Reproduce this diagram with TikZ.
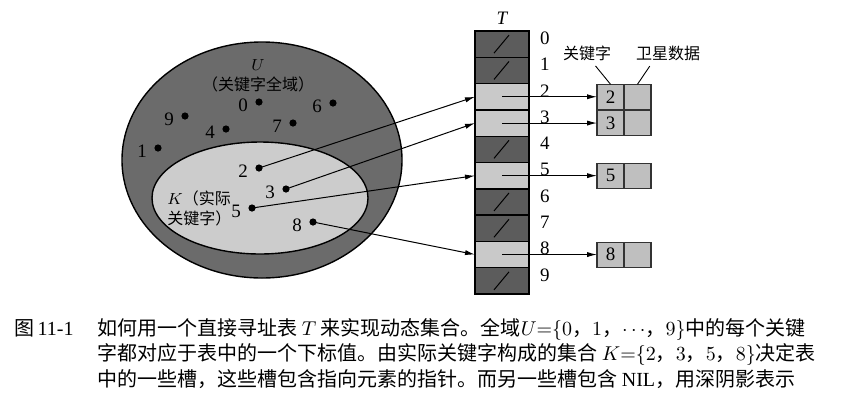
\documentclass[tikz,border=0pt]{standalone}
\usepackage{fontspec}
\setmainfont{Liberation Serif}
\newfontfamily\cjkfont{Noto Sans CJK SC}
\usepackage{tikz}
\usetikzlibrary{arrows.meta, positioning}
\colorlet{univgray}{black!58}
\colorlet{keygray}{black!20}
\colorlet{nilgray}{black!64}
\colorlet{usedgray}{black!21}
\colorlet{recgray}{black!25}
\tikzset{
  keydot/.style   = {circle, fill=black, inner sep=0pt, minimum size=3.6pt},
  num/.style      = {font=\fontsize{9.5}{11}\selectfont, yshift=-1.5pt},
  slot/.style     = {rectangle, draw, line width=0.7pt, fill=usedgray, minimum width=27pt,
                     minimum height=13.15pt, inner sep=0pt, outer sep=0pt},
  nilslot/.style  = {slot, fill=nilgray, path picture={
                     \draw[line width=0.5pt] (path picture bounding box.center)
                       +(-4pt,-4.5pt) -- +(3.5pt,4.5pt);}},
  idx/.style      = {font=\fontsize{9.5}{11}\selectfont, xshift=2pt, yshift=3pt},
  keycell/.style  = {rectangle, draw=black!80, line width=0.55pt, fill=recgray,
                     minimum width=13.5pt, minimum height=12.5pt, inner sep=0pt,
                     outer sep=0pt, font=\fontsize{9.5}{11}\selectfont},
  ptr/.style      = {-{Latex[length=5pt, width=2.6pt]}, line width=0.5pt},
  lead/.style     = {line width=0.45pt, shorten <=2pt},
  cjklab/.style   = {font=\cjkfont\fontsize{8}{10}\selectfont, inner sep=1pt},
  captext/.style  = {font=\cjkfont\fontsize{10}{12}\selectfont, anchor=base west, inner sep=0pt},
}

\begin{document}
\begin{tikzpicture}[x=0.5pt, y=-0.5pt]
  \useasboundingbox (0,0) rectangle (852,403);

  % the universe and the actual keys
  \draw[fill=univgray, line width=0.7pt] (262,160) ellipse [x radius=70pt, y radius=59pt];
  \draw[fill=keygray, line width=0.7pt] (260,198) ellipse [x radius=54pt, y radius=28pt];
  \node[cjklab, align=center] (ulab) at (258,76) {$U$\\（关键字全域）};
  \node[cjklab, align=left, anchor=west] (klab) at (165,208) {$K$（实际\\关键字）};

  \node[keydot, label={[num]left:0}] (k0) at (259,102) {};
  \node[keydot, label={[num]left:6}] (k6) at (333,103) {};
  \node[keydot, label={[num]left:9}] (k9) at (185,116) {};
  \node[keydot, label={[num]left:4}] (k4) at (226,129) {};
  \node[keydot, label={[num]left:7}] (k7) at (293,123) {};
  \node[keydot, label={[num]left:1}] (k1) at (158,148) {};
  \node[keydot, label={[num]left:2}] (k2) at (259,168) {};
  \node[keydot, label={[num]left:3}] (k3) at (286,189) {};
  \node[keydot, label={[num]left:5}] (k5) at (252,208) {};
  \node[keydot, label={[num]left:8}] (k8) at (313,222) {};

  % the direct-address table
  \node[font=\fontsize{9.5}{11}\selectfont\itshape] (tlab) at (502,18) {T};
  \node[nilslot, label={[idx]right:0}] (s0) at (502,44.15) {};
  \node[nilslot, label={[idx]right:1}, below=0pt of s0] (s1) {};
  \node[slot,    label={[idx]right:2}, below=0pt of s1] (s2) {};
  \node[slot,    label={[idx]right:3}, below=0pt of s2] (s3) {};
  \node[nilslot, label={[idx]right:4}, below=0pt of s3] (s4) {};
  \node[slot,    label={[idx]right:5}, below=0pt of s4] (s5) {};
  \node[nilslot, label={[idx]right:6}, below=0pt of s5] (s6) {};
  \node[nilslot, label={[idx]right:7}, below=0pt of s6] (s7) {};
  \node[slot,    label={[idx]right:8}, below=0pt of s7] (s8) {};
  \node[nilslot, label={[idx]right:9}, below=0pt of s8] (s9) {};

  % elements: key + satellite data
  \node[keycell, right=34pt of s2] (r2) {2};
  \node[keycell, right=0pt of r2] (d2) {};
  \node[keycell, right=34pt of s3] (r3) {3};
  \node[keycell, right=0pt of r3] (d3) {};
  \node[keycell, right=34pt of s5] (r5) {5};
  \node[keycell, right=0pt of r5] (d5) {};
  \node[keycell, right=34pt of s8] (r8) {8};
  \node[keycell, right=0pt of r8] (d8) {};
  \node[cjklab] (keylab) at (587,53) {关键字};
  \node[cjklab] (satlab) at (668,53) {卫星数据};
  \draw[lead] ([xshift=3pt]keylab.south) -- (r2.north);
  \draw[lead] ([xshift=-8pt]satlab.south) -- (d2.north);

  \draw[ptr] (k2.center) -- (s2.west);
  \draw[ptr] (k3.center) -- (s3.west);
  \draw[ptr] (k5.center) -- (s5.west);
  \draw[ptr] (k8.center) -- (s8.west);
  \draw[ptr] (s2.center) -- (r2.west);
  \draw[ptr] (s3.center) -- (r3.west);
  \draw[ptr] (s5.center) -- (r5.west);
  \draw[ptr] (s8.center) -- (r8.west);

  % caption
  \node[captext] (fignum) at (14,335) {图\,\textrm{11-1}};
  \node[captext] (cap1) at (97,335) {如何用一个直接寻址表 $T$ 来实现动态集合。全域$U{=}\{0$，$1$，$\cdots$，$9\}$中的每个关键};
  \node[captext] (cap2) at (97,360) {字都对应于表中的一个下标值。由实际关键字构成的集合 $K{=}\{2$，$3$，$5$，$8\}$决定表};
  \node[captext] (cap3) at (97,386) {中的一些槽，这些槽包含指向元素的指针。而另一些槽包含 \textrm{NIL}，用深阴影表示};
\end{tikzpicture}
\end{document}
